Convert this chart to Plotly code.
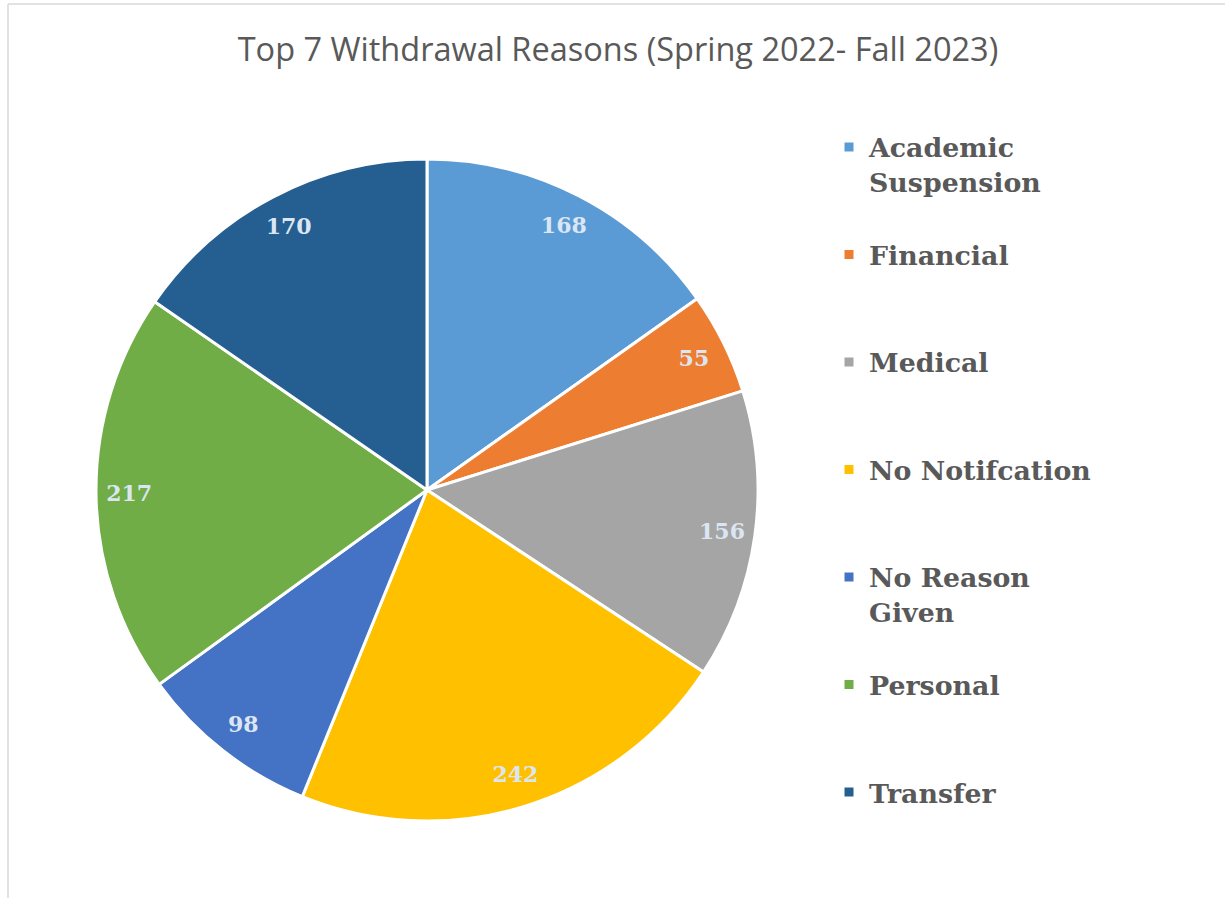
import plotly.graph_objects as go

categories = ["Academic Suspension", "Financial", "Medical", "No Notifcation",
              "No Reason Given", "Personal", "Transfer"]
values = [168, 55, 156, 242, 98, 217, 170]
legend_labels = ["Academic<br>Suspension<br> ", "Financial<br> <br> ", "Medical<br> <br> ",
                 "No Notifcation<br> <br> ", "No Reason<br>Given<br> ", "Personal<br> <br> ",
                 "Transfer<br> <br> "]
colors = ["#5B9BD5", "#ED7D31", "#A5A5A5", "#FFC000", "#4472C4", "#70AD47", "#255E91"]
title_text = "Top 7 Withdrawal Reasons (Spring 2022- Fall 2023)"

W, H = 1225, 898
dom_x = [96 / W, 758 / W]
dom_y = [1 - 821 / H, 1 - 159 / H]

fig = go.Figure()
fig.add_trace(go.Pie(
    labels=legend_labels, values=values, sort=False, direction="clockwise", rotation=0,
    marker=dict(colors=colors, line=dict(color="white", width=3)),
    textinfo="none", domain=dict(x=dom_x, y=dom_y), showlegend=True,
    hovertext=categories, hoverinfo="text+value",
))
fig.add_trace(go.Pie(
    labels=legend_labels, values=values, sort=False, direction="clockwise", rotation=0,
    hole=0.8,
    marker=dict(colors=["rgba(0,0,0,0)"] * len(values), line=dict(width=0)),
    textinfo="value", textposition="inside", insidetextorientation="horizontal",
    textfont=dict(family="DejaVu Serif", size=22, color="#DCE6F2", weight="bold"),
    domain=dict(x=dom_x, y=dom_y), showlegend=False, hoverinfo="skip",
))

fig.update_layout(
    width=W, height=H,
    margin=dict(l=0, r=0, t=0, b=0),
    paper_bgcolor="white", plot_bgcolor="white",
    title=dict(text=title_text, x=618 / W, xanchor="center", y=1 - 50 / H, yanchor="middle",
               font=dict(family="Open Sans", size=32.5, color="#595959")),
    legend=dict(x=829 / W, xanchor="left", y=1 - 123 / H, yanchor="top", valign="top",
                font=dict(family="DejaVu Serif", size=26.8, color="#595959", weight="bold"),
                bgcolor="rgba(0,0,0,0)", traceorder="normal"),
    shapes=[
        dict(type="line", xref="paper", yref="paper", x0=8 / W, x1=1.01, y0=1 - 4 / H, y1=1 - 4 / H,
             line=dict(color="#D9D9D9", width=1.5)),
        dict(type="line", xref="paper", yref="paper", x0=8 / W, x1=8 / W, y0=-0.01, y1=1 - 4 / H,
             line=dict(color="#D9D9D9", width=1.5)),
    ],
)

fig.write_html("out.html")
